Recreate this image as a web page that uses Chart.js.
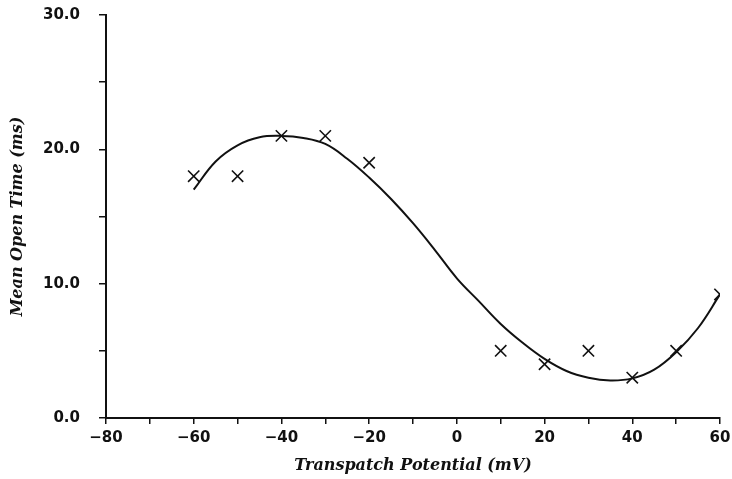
<!DOCTYPE html>
<html>
<head>
<meta charset="utf-8">
<script src="https://cdn.jsdelivr.net/npm/chart.js@4"></script>
<style>
  html, body { margin: 0; padding: 0; background: #fff; }
  #wrap { width: 732px; height: 479px; }
</style>
</head>
<body>
<div id="wrap"><canvas id="chart" width="732" height="479"></canvas></div>
<script>
// measured points (X markers)
const potentials = [-60, -50, -40, -30, -20, 10, 20, 30, 40, 50, 60]
const openTimes = [18, 18, 21, 21, 19, 5, 4, 5, 3, 5, 9.2]

// fitted curve
const curveX = [-60, -55, -50, -45, -40, -35, -30, -25, -20, -15, -10, -5, 0, 5, 10, 15, 20, 25, 30, 35, 40, 45, 50, 55, 60]
const curveY = [17.0, 19.1, 20.3, 20.9, 21.0, 20.85, 20.4, 19.3, 17.9, 16.3, 14.5, 12.5, 10.4, 8.7, 7.0, 5.6, 4.4, 3.5, 3.0, 2.8, 2.95, 3.6, 4.9, 6.7, 9.2]

const xTickLabels = [-80, -60, -40, -20, 0, 20, 40, 60]
const yTickLabels = [0, 10, 20, 30]

const ink = '#111'
const tickFont = { family: 'DejaVu Sans', size: 15, weight: 'bold' }
const titleFont = { family: 'DejaVu Serif', size: 16, weight: 'bold', style: 'italic' }

const points = potentials.map((x, i) => ({ x: x, y: openTimes[i] }))
const curve = curveX.map((x, i) => ({ x: x, y: curveY[i] }))

const config = {
  type: 'scatter',
  data: {
    datasets: [
      {
        label: 'curve',
        data: curve,
        showLine: true,
        borderColor: ink,
        borderWidth: 2,
        pointRadius: 0,
        tension: 0.4,
        fill: false
      },
      {
        label: 'data',
        data: points,
        pointStyle: 'crossRot',
        pointRadius: 8,
        borderColor: ink,
        borderWidth: 1.6,
        backgroundColor: ink
      }
    ]
  },
  options: {
    responsive: false,
    animation: false,
    layout: { padding: { top: 15, right: 12, left: 0, bottom: 0 } },
    plugins: { legend: { display: false }, tooltip: { enabled: false } },
    scales: {
      x: {
        type: 'linear',
        min: -80,
        max: 60,
        afterFit: (scale) => {
          scale.height = 61
          scale.paddingLeft = 0
          scale.paddingRight = 0
        },
        border: { display: true, color: ink, width: 2 },
        grid: { drawOnChartArea: false, drawTicks: true, tickLength: 6, color: ink, lineWidth: 1.5 },
        ticks: {
          stepSize: 10,
          autoSkip: false,
          maxRotation: 0,
          padding: 5,
          color: ink,
          font: tickFont,
          callback: (v) => xTickLabels.includes(v) ? (v < 0 ? '\u2212' + Math.abs(v) : String(v)) : ''
        },
        title: { display: true, text: 'Transpatch Potential (mV)', color: ink, font: titleFont, padding: { top: 0, bottom: 4 } }
      },
      y: {
        type: 'linear',
        min: 0,
        max: 30,
        afterFit: (scale) => {
          scale.width = 106
          scale.paddingTop = 0
          scale.paddingBottom = 0
        },
        border: { display: true, color: ink, width: 2 },
        grid: { drawOnChartArea: false, drawTicks: true, tickLength: 7, color: ink, lineWidth: 1.5 },
        ticks: {
          stepSize: 5,
          autoSkip: false,
          padding: 19,
          color: ink,
          font: tickFont,
          callback: (v) => yTickLabels.includes(v) ? v.toFixed(1) : ''
        },
        title: { display: true, text: 'Mean Open Time (ms)', color: ink, font: titleFont, padding: { top: 8, bottom: 0 } }
      }
    }
  }
}

new Chart(document.getElementById('chart'), config)
</script>
</body>
</html>
